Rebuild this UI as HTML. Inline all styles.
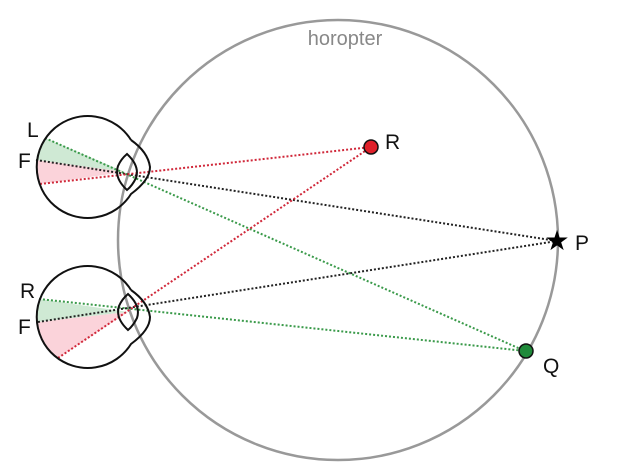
<!DOCTYPE html>
<html><head><style>body{margin:0;background:#fff}</style></head><body>
<svg width="630" height="471" viewBox="0 0 630 471" xmlns="http://www.w3.org/2000/svg" font-family="Liberation Sans, sans-serif">
<rect width="630" height="471" fill="#fff"/>
<circle cx="338" cy="240" r="220" fill="none" stroke="#999" stroke-width="2.5"/>
<text x="345" y="45" font-size="20" fill="#888" text-anchor="middle">horopter</text>
<path d="M125,172 L45,138 A51,51 0 0 0 36,160 Z" fill="#cfe9d4"/>
<path d="M125,172 L36,160 A51,51 0 0 0 40,184 Z" fill="#fbd3da"/>
<path d="M128,312 L39,299 A51,51 0 0 0 38,322 Z" fill="#cfe9d4"/>
<path d="M128,312 L38,322 A51,51 0 0 0 58,358 Z" fill="#fbd3da"/>
<g fill="none" stroke-width="2" stroke-dasharray="2 2">
<line x1="45" y1="138" x2="525" y2="351" stroke="#3a9a4a"/>
<line x1="36" y1="160" x2="557" y2="241" stroke="#222"/>
<line x1="40" y1="184" x2="371" y2="147" stroke="#d0283a"/>
<line x1="39" y1="299" x2="525" y2="351" stroke="#3a9a4a"/>
<line x1="38" y1="322" x2="557" y2="241" stroke="#222"/>
<line x1="58" y1="358" x2="371" y2="147" stroke="#d0283a"/>
</g>
<g fill="none" stroke="#111" stroke-width="2">
<path d="M131,140 A51,51 0 1 0 131,194 Q150,180 150,167 Q148,152 131,140"/>
<path d="M127,154 Q140,166 136,178 Q132,186 127,190 Q114,178 118,166 Q121,159 127,154Z"/>
<path d="M131,290 A51,51 0 1 0 131,344 Q150,330 150,317 Q148,302 131,290"/>
<path d="M128,294 Q141,306 137,318 Q133,326 128,330 Q115,318 119,306 Q122,299 128,294Z"/>
</g>
<circle cx="371" cy="147" r="7" fill="#e0202a" stroke="#111" stroke-width="1.5"/>
<circle cx="526" cy="351" r="7" fill="#1f8a3a" stroke="#111" stroke-width="1.5"/>
<text x="557" y="250" font-size="28" text-anchor="middle">★</text>
<g font-size="21" fill="#111">
<text x="27" y="137">L</text><text x="18" y="168">F</text>
<text x="20" y="298">R</text><text x="18" y="334">F</text>
<text x="385" y="149">R</text><text x="575" y="250">P</text><text x="543" y="373">Q</text>
</g>
</svg>
</body></html>
